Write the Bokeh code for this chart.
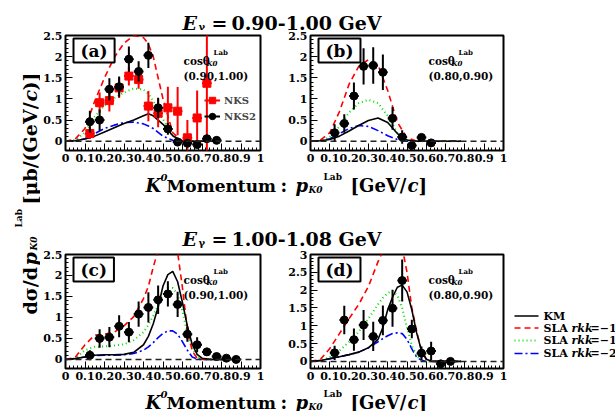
import numpy as np
from math import pi
from bokeh.plotting import figure
from bokeh.layouts import row, column
from bokeh.models import (Range1d, FixedTicker, CustomJSTickFormatter, Span, Label,
                          Legend, LegendItem)
from bokeh.embed import file_html
from bokeh.resources import INLINE

FONT = "DejaVu Serif"

# ---------------- data ----------------
# Panel (a): E 0.90-1.00, cos (0.90,1.00)
a_nks2_x = [0.125, 0.175, 0.225, 0.275, 0.325, 0.375, 0.425, 0.475, 0.525, 0.575, 0.625, 0.675, 0.725, 0.775]
a_nks2_y = [0.46, 0.50, 1.23, 1.29, 1.94, 1.65, 2.03, 0.79, 0.29, -0.02, -0.05, -0.08, 0.06, 0.02]
a_nks2_e = [0.26, 0.25, 0.26, 0.24, 0.30, 0.24, 0.30, 0.24, 0.14, 0.10, 0.08, 0.06, 0.05, 0.03]
a_nks_x = [0.125, 0.175, 0.225, 0.275, 0.325, 0.375, 0.425, 0.475, 0.525, 0.575, 0.625, 0.675, 0.725]
a_nks_y = [0.18, 0.91, 0.96, 1.26, 1.54, 1.46, 0.83, 0.66, 0.79, 0.71, 0.08, 0.55, 1.37]
a_nks_e = [0.13, 0.24, 0.26, 0.24, 0.22, 0.22, 0.36, 0.33, 0.50, 0.57, 0.42, 0.65, 1.70]
a_cx = [0, 0.05, 0.1, 0.15, 0.2, 0.25, 0.3, 0.35, 0.4, 0.425, 0.45, 0.5, 0.55, 0.6, 0.78]
a_km = [0, 0.01, 0.05, 0.12, 0.22, 0.32, 0.42, 0.50, 0.60, 0.65, 0.60, 0.40, 0.13, 0, 0]
a_r10 = [0, 0.05, 0.30, 0.95, 1.50, 1.98, 2.32, 2.50, 2.45, 2.30, 2.00, 1.00, 0.20, 0, 0]
a_r15 = [0, 0.03, 0.20, 0.58, 0.85, 1.02, 1.15, 1.25, 1.22, 1.12, 0.95, 0.52, 0.12, 0, 0]
a_r20 = [0, 0.01, 0.06, 0.18, 0.30, 0.38, 0.44, 0.45, 0.41, 0.36, 0.30, 0.12, 0.02, 0, 0]

# Panel (b): E 0.90-1.00, cos (0.80,0.90)
b_x = [0.125, 0.175, 0.225, 0.275, 0.325, 0.375, 0.425, 0.475, 0.525, 0.575, 0.625]
b_y = [0.20, 0.42, 1.07, 1.77, 1.79, 1.63, 0.54, 0.10, -0.10, 0.09, -0.04]
b_e = [0.20, 0.22, 0.32, 0.43, 0.43, 0.42, 0.27, 0.16, 0.07, 0.08, 0.04]
b_cx = [0, 0.05, 0.1, 0.15, 0.2, 0.25, 0.3, 0.35, 0.4, 0.45, 0.5, 0.55, 0.6, 0.78]
b_km = [0, 0.01, 0.04, 0.12, 0.24, 0.37, 0.49, 0.55, 0.44, 0.18, 0.03, 0, 0, 0]
b_r10 = [0, 0.02, 0.20, 0.70, 1.35, 1.77, 1.93, 1.80, 1.20, 0.45, 0.08, 0, 0, 0]
b_r15 = [0, 0.01, 0.10, 0.35, 0.68, 0.90, 0.98, 0.90, 0.60, 0.20, 0.02, 0, 0, 0]
b_r20 = [0, 0.01, 0.06, 0.18, 0.30, 0.37, 0.35, 0.25, 0.13, 0.04, 0, 0, 0, 0]

# Panel (c): E 1.00-1.08, cos (0.90,1.00)
c_x = [0.125, 0.175, 0.225, 0.275, 0.325, 0.375, 0.425, 0.475, 0.525, 0.575, 0.625, 0.675, 0.725, 0.775, 0.825, 0.875]
c_y = [0.10, 0.50, 0.53, 0.79, 0.65, 1.08, 1.24, 1.42, 1.56, 1.31, 0.60, 0.35, 0.18, 0.07, 0.03, 0.00]
c_e = [0.12, 0.22, 0.24, 0.26, 0.24, 0.30, 0.36, 0.34, 0.30, 0.30, 0.18, 0.18, 0.10, 0.05, 0.03, 0.02]
c_cx = [0, 0.05, 0.1, 0.15, 0.2, 0.25, 0.3, 0.35, 0.4, 0.425, 0.45, 0.475, 0.5, 0.525, 0.55,
        0.575, 0.6, 0.625, 0.65, 0.675, 0.7, 0.75, 0.85]
c_km = [0, 0.02, 0.06, 0.10, 0.11, 0.11, 0.12, 0.17, 0.35, 0.55, 0.85, 1.25, 1.75, 2.02, 2.10,
        1.85, 1.35, 0.80, 0.35, 0.12, 0.03, 0, 0]
c_r10 = [0, 0.05, 0.35, 0.58, 0.60, 0.65, 0.80, 1.02, 1.45, 1.74, 2.20, 2.60, 3.10, 3.40, 3.20,
         2.55, 1.70, 0.70, 0.20, 0.03, 0, 0, 0]
c_r15 = [0, 0.03, 0.22, 0.30, 0.31, 0.33, 0.36, 0.46, 0.65, 0.82, 1.05, 1.30, 1.55, 1.70, 1.70,
         1.55, 1.15, 0.60, 0.25, 0.06, 0.01, 0, 0]
c_r20 = [0, 0.02, 0.06, 0.09, 0.10, 0.10, 0.11, 0.14, 0.22, 0.30, 0.40, 0.52, 0.62, 0.68, 0.68,
         0.60, 0.42, 0.22, 0.06, 0.01, 0, 0, 0]

# Panel (d): E 1.00-1.08, cos (0.80,0.90)
d_x = [0.125, 0.175, 0.225, 0.275, 0.325, 0.375, 0.425, 0.475, 0.525, 0.575, 0.625, 0.675, 0.725]
d_y = [0.24, 1.16, 0.61, 1.02, 0.70, 1.15, 1.49, 2.27, 0.91, 0.23, 0.29, -0.07, 0.00]
d_e = [0.20, 0.40, 0.31, 0.42, 0.41, 0.42, 0.52, 0.59, 0.26, 0.19, 0.26, 0.05, 0.03]
d_cx = [0, 0.05, 0.1, 0.15, 0.2, 0.25, 0.3, 0.35, 0.375, 0.4, 0.425, 0.45, 0.475, 0.5, 0.525,
        0.55, 0.575, 0.6, 0.625, 0.65, 0.78]
d_km = [0, 0.02, 0.08, 0.13, 0.19, 0.26, 0.38, 0.62, 0.95, 1.45, 1.80, 2.08, 2.14, 1.95, 1.45,
        0.80, 0.30, 0.06, 0.01, 0, 0]
d_r10 = [0, 0.05, 0.36, 0.78, 1.20, 1.60, 2.10, 2.80, 3.10, 3.60, 4.00, 3.90, 3.20, 2.50, 1.50,
         0.85, 0.30, 0.06, 0, 0, 0]
d_r15 = [0, 0.02, 0.12, 0.30, 0.55, 0.83, 1.20, 1.60, 1.78, 1.92, 1.97, 1.85, 1.50, 0.95, 0.45,
         0.15, 0.03, 0, 0, 0, 0]
d_r20 = [0, 0.02, 0.07, 0.13, 0.19, 0.26, 0.38, 0.55, 0.64, 0.72, 0.78, 0.80, 0.78, 0.62, 0.35,
         0.12, 0.03, 0, 0, 0, 0]

x_ticks = [0, 0.1, 0.2, 0.3, 0.4, 0.5, 0.6, 0.7, 0.8, 0.9, 1.0]
y_ticks_25 = [0, 0.5, 1.0, 1.5, 2.0, 2.5]
y_ticks_3 = [0, 0.5, 1.0, 1.5, 2.0, 2.5, 3.0]

titles = ["0.90-1.00 GeV", "1.00-1.08 GeV"]
cos_bins = ["(0.90,1.00)", "(0.80,0.90)", "(0.90,1.00)", "(0.80,0.90)"]
panel_tags = ["(a)", "(b)", "(c)", "(d)"]
model_names = ["KM", "\u22121.0", "\u22121.5", "\u22122.0"]

RED = "#ff0000"
GREEN = "#00e000"
BLUE = "#0000ff"

fmt = CustomJSTickFormatter(code="return String(Math.round(tick*100)/100);")


def make_panel(width, ml, mr, mt, mb, height, ylo, yhi, yticks):
    p = figure(width=width, height=height, x_range=Range1d(0, 1), y_range=Range1d(ylo, yhi),
               output_backend="svg", toolbar_location=None,
               min_border_left=ml, min_border_right=mr, min_border_top=mt, min_border_bottom=mb)
    p.grid.visible = False
    p.outline_line_color = "black"
    p.outline_line_width = 2
    p.background_fill_color = "white"
    p.border_fill_color = "white"
    p.xaxis.ticker = FixedTicker(ticks=x_ticks, minor_ticks=list(np.arange(0, 1.001, 0.02)))
    p.yaxis.ticker = FixedTicker(ticks=yticks, minor_ticks=list(np.arange(0, yhi + 0.001, 0.1)))
    for ax in [p.xaxis[0], p.yaxis[0]]:
        ax.axis_line_color = None
        ax.major_tick_in = 7
        ax.major_tick_out = 0
        ax.minor_tick_in = 3
        ax.minor_tick_out = 0
        ax.major_tick_line_color = "black"
        ax.minor_tick_line_color = "black"
        ax.major_label_text_font = FONT
        ax.major_label_text_font_style = "bold"
        ax.major_label_text_font_size = "11px"
        ax.major_label_text_color = "black"
        ax.major_label_standoff = 3
        ax.formatter = fmt
    p.add_layout(Span(location=0, dimension="width", line_color="#222222",
                      line_dash="6 4", line_width=1.5))
    return p


def curves(p, xs, km, r10, r15, r20):
    p.line(xs, r20, line_color=BLUE, line_dash="8 3 2 3", line_width=1.6)
    p.line(xs, r15, line_color=GREEN, line_dash="1 3", line_width=2)
    p.line(xs, r10, line_color=RED, line_dash="6 4", line_width=1.6)
    p.line(xs, km, line_color="black", line_width=1.6)


def points(p, x, y, e, color, marker):
    x = np.array(x); y = np.array(y); e = np.array(e)
    p.segment(x0=x, y0=y - e, x1=x, y1=y + e, line_color=color, line_width=2)
    rh = p.segment(x0=x - 0.025, y0=y, x1=x + 0.025, y1=y, line_color=color, line_width=2)
    rp = p.scatter(x, y, marker=marker, size=8, fill_color=color, line_color=color)
    return rh, rp


def lab(p, ymax, dx, dy, text, size, style="bold", baseline="alphabetic", **kw):
    p.add_layout(Label(x=0, y=ymax, x_offset=dx, y_offset=-dy, text=text, text_font=FONT,
                       text_font_style=style, text_font_size=f"{size}px", text_color="black",
                       text_align="left", text_baseline=baseline, **kw))


def annotate(p, ymax, tag, cosbin):
    lab(p, ymax, 8, 3, tag, 17, baseline="top", background_fill_color="white",
        border_line_color="black", border_line_width=2,
        padding=dict(left=7, right=7, top=2, bottom=2))
    lab(p, ymax, 118, 25, "cos\u03b8", 10.5)
    lab(p, ymax, 141, 28, "K0", 7, style="bold italic")
    lab(p, ymax, 148, 17, "Lab", 7)
    lab(p, ymax, 118, 40, cosbin, 10.5)


# ---- top row ----
pa = make_panel(245, 23, 25, 5, 18, 138, -0.22, 2.5, y_ticks_25)
curves(pa, a_cx, a_km, a_r10, a_r15, a_r20)
rh_red, rp_red = points(pa, a_nks_x, a_nks_y, a_nks_e, RED, "square")
rh_blk, rp_blk = points(pa, a_nks2_x, a_nks2_y, a_nks2_e, "black", "circle")
annotate(pa, 2.5, panel_tags[0], cos_bins[0])
leg = Legend(items=[LegendItem(label="NKS", renderers=[rh_red, rp_red]),
                    LegendItem(label="NKS2", renderers=[rh_blk, rp_blk])],
             location=(139, 26), border_line_color=None, background_fill_alpha=0,
             label_text_font=FONT, label_text_font_style="bold", label_text_font_size="10px",
             glyph_width=16, glyph_height=16, label_height=16, label_standoff=4,
             spacing=0, padding=0, margin=0)
pa.add_layout(leg)

pb = make_panel(245, 22, 27, 5, 18, 138, -0.22, 2.5, y_ticks_25)
curves(pb, b_cx, b_km, b_r10, b_r15, b_r20)
points(pb, b_x, b_y, b_e, "black", "circle")
annotate(pb, 2.5, panel_tags[1], cos_bins[1])

# ---- bottom row ----
pc = make_panel(245, 23, 25, 5, 17, 136, -0.216, 2.5, y_ticks_25)
curves(pc, c_cx, c_km, c_r10, c_r15, c_r20)
points(pc, c_x, c_y, c_e, "black", "circle")
annotate(pc, 2.5, panel_tags[2], cos_bins[2])

pd = make_panel(225, 22, 7, 5, 17, 136, -0.2, 3.0, y_ticks_3)
curves(pd, d_cx, d_km, d_r10, d_r15, d_r20)
points(pd, d_x, d_y, d_e, "black", "circle")
annotate(pd, 3.0, panel_tags[3], cos_bins[3])


# ---- text strips (ranges in page pixels, y pointing down) ----
def strip(x0, x1, y0, y1, mt=0, mb=0):
    p = figure(width=x1 - x0, height=y1 - y0 + mt + mb, x_range=Range1d(x0, x1),
               y_range=Range1d(y1, y0), output_backend="svg", toolbar_location=None,
               x_axis_type=None, y_axis_type=None,
               min_border_left=0, min_border_right=0, min_border_top=mt, min_border_bottom=mb)
    p.outline_line_color = None
    p.background_fill_color = "white"
    p.border_fill_color = "white"
    return p


def put(p, x, y, s, size, style="bold", angle=0.0, baseline="alphabetic"):
    p.add_layout(Label(x=x, y=y, text=s, text_font=FONT, text_font_style=style,
                       text_font_size=f"{size}px", text_baseline=baseline, text_align="left",
                       angle=angle, text_color="black"))


def title(p, yb, s):
    put(p, 182, yb, "E", 19, "bold italic")
    put(p, 198, yb + 4, "\u03b3", 10)
    put(p, 211, yb, "=", 19)
    put(p, 231, yb, s, 19)


def xlabel(p, yb):
    put(p, 145, yb, "K", 18, "bold italic")
    put(p, 160, yb - 8, "0", 10, "bold italic")
    put(p, 166, yb, "Momentum", 17)
    put(p, 280, yb, ":", 18)
    put(p, 295, yb, "p", 18, "bold italic")
    put(p, 308, yb + 4, "K0", 9, "bold italic")
    put(p, 323, yb - 9, "Lab", 9)
    put(p, 350, yb, "[GeV/", 18)
    put(p, 407, yb, "c", 18, "bold italic")
    put(p, 418, yb, "]", 18)


t1 = strip(40, 615, 0, 30)
title(t1, 22, titles[0])

mid = strip(40, 615, 168, 249)
xlabel(mid, 185)
title(mid, 238, titles[1])

bot = strip(40, 615, 385, 411)
xlabel(bot, 402)

# y label strip
yl = strip(0, 40, 0, 411)
A = pi / 2
put(yl, 29, 314, "d\u03c3/d", 19, angle=A)
put(yl, 29, 265, "p", 19, "bold italic", angle=A)
put(yl, 33, 250, "K0", 9, "bold italic", angle=A)
put(yl, 18, 227, "Lab", 9, angle=A)
put(yl, 29, 204, "[\u03bcb/(GeV/", 19, angle=A)
put(yl, 29, 101, "c", 19, "bold italic", angle=A)
put(yl, 29, 90, ")]", 19, angle=A)

# legend strip (bottom right); its frame is aligned with the panels' frames (254..368)
lg = strip(510, 615, 254, 368, mt=5, mb=17)
leg_y = [315.5, 327.5, 340, 353]
leg_col = ["black", RED, GREEN, BLUE]
leg_dash = ["solid", "6 4", "1 3", "8 3 2 3"]
for yy, col, dsh in zip(leg_y, leg_col, leg_dash):
    lg.segment(x0=[514], y0=[yy], x1=[538], y1=[yy], line_color=col, line_dash=dsh,
               line_width=2 if col == GREEN else 1.6)
put(lg, 543, leg_y[0], model_names[0], 11, baseline="middle")
for yy, nm in zip(leg_y[1:], model_names[1:]):
    put(lg, 543, yy, "SLA", 11, baseline="middle")
    put(lg, 571, yy, "rkk", 11, "bold italic", baseline="middle")
    put(lg, 590, yy, "=" + nm, 11, baseline="middle")

layout = row(yl, column(t1, row(pa, pb), mid, row(pc, pd, lg), bot))

open("out.html", "w").write(file_html(layout, INLINE))
